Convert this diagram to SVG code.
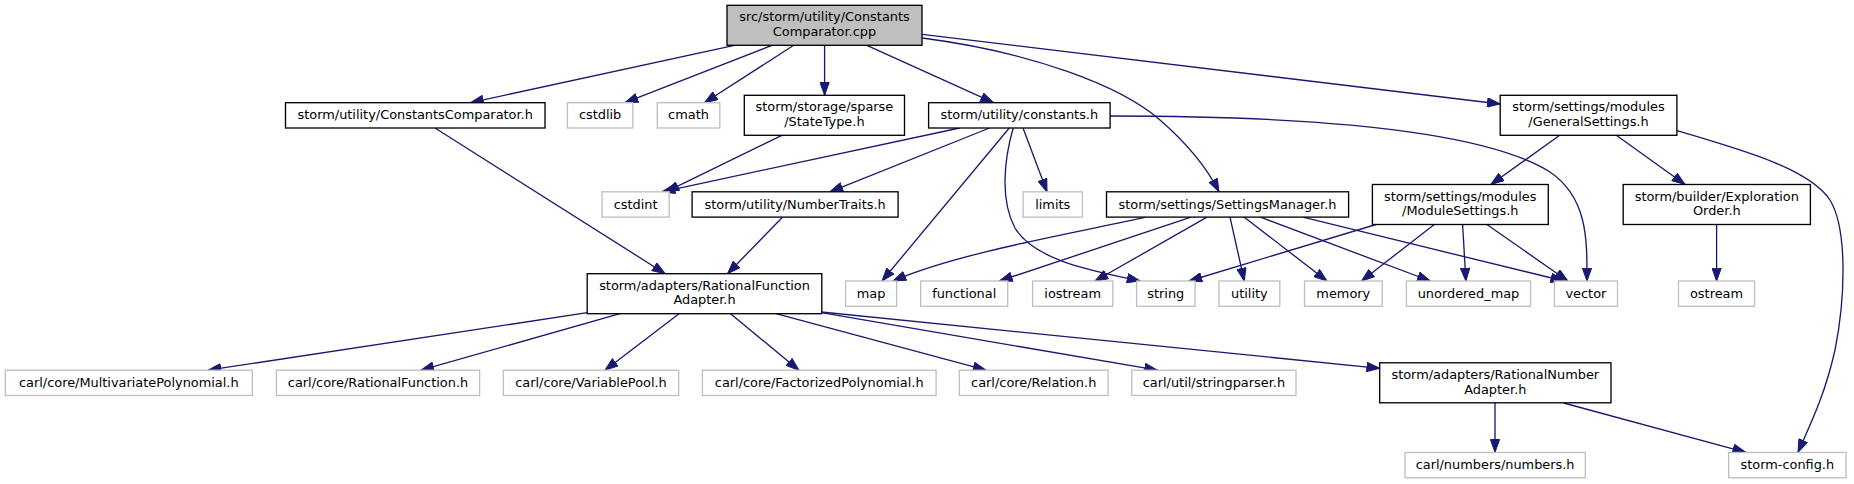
<svg xmlns="http://www.w3.org/2000/svg" width="1854" height="484" viewBox="0 0 1854 484">
<style>
.n rect{fill:#ffffff;stroke:#000000;stroke-width:1.33}
.g rect{fill:#ffffff;stroke:#bfbfbf;stroke-width:1.33}
.r rect{fill:#bfbfbf;stroke:#000000;stroke-width:1.33}
text{font-family:"DejaVu Sans","Liberation Sans",sans-serif;font-size:12.9px;fill:#000000;text-anchor:middle}
#edges path{fill:none;stroke:#191970;stroke-width:1.33;marker-end:url(#arr)}
</style>
<defs>
<marker id="arr" markerUnits="userSpaceOnUse" viewBox="0 0 14 10" refX="13.3" refY="5" markerWidth="14" markerHeight="10" orient="auto">
<path d="M0.5,0.4 L13.3,5 L0.5,9.6 z" fill="#191970" stroke="#191970" stroke-width="1"/>
</marker>
</defs>
<rect width="1854" height="484" fill="#ffffff"/>
<g id="edges">
<path d="M734.4,45.3 L470.5,102.7"/>
<path d="M772,45.3 L625,102.7"/>
<path d="M793.7,45.3 L704.5,102.7"/>
<path d="M824.6,45.3 L824.6,95.3"/>
<path d="M866.9,45.3 L993.5,102.7"/>
<path d="M922.3,38 C1030,52 1120,85 1160,120 C1190,146 1208,170 1219,191.8"/>
<path d="M922.3,34.3 L1500.2,104"/>
<path d="M959.6,128 L662,191.8"/>
<path d="M989.5,128 L830,191.8"/>
<path d="M1009.3,128 L882,281"/>
<path d="M1013.2,128 C1004,160 1000,200 1015,228 C1035,262 1100,272 1140,281"/>
<path d="M1023,128 L1047,191.8"/>
<path d="M1110,116 C1300,116 1480,128 1550,172 C1588,198 1587,240 1587,281"/>
<path d="M781.9,135.3 L666,191.8"/>
<path d="M435,128 L665.2,273.7"/>
<path d="M782.5,217.2 L727.5,273.7"/>
<path d="M1145.6,217.2 C1080,232 960,252 893,281"/>
<path d="M1191,217.2 L999.4,281"/>
<path d="M1207,217.2 L1095,281"/>
<path d="M1230,217.2 L1244.3,281"/>
<path d="M1244.3,217.2 L1327,281"/>
<path d="M1260.4,217.2 L1430.3,281"/>
<path d="M1302.9,217.2 L1563.7,281"/>
<path d="M1376,224.5 L1189,281"/>
<path d="M1434.3,224.5 L1361.5,281"/>
<path d="M1462.6,224.5 L1465.9,281"/>
<path d="M1486.9,224.5 L1567.8,281"/>
<path d="M1559.7,135.3 L1490.9,184.5"/>
<path d="M1616.3,135.3 L1685,184.5"/>
<path d="M1677,130.7 C1750,152 1810,170 1830,200 C1848,230 1845,300 1835,350 C1825,395 1810,425 1798,452.3"/>
<path d="M1716.6,224.5 L1716.6,281"/>
<path d="M587.2,312.7 L208,370.2"/>
<path d="M620,313.7 L421,370.2"/>
<path d="M679,313.7 L605,370.2"/>
<path d="M730.5,313.7 L799,370.2"/>
<path d="M776,313.7 L986,370.2"/>
<path d="M821.4,312.7 L1157.5,370.2"/>
<path d="M821.4,312 L1379.7,368.3"/>
<path d="M1495,403 L1495,452.3"/>
<path d="M1563.7,403 L1745.7,452.3"/>
</g>
<g id="node1" class="r"><rect x="727" y="5.3" width="195" height="40"/><text x="824.5" y="21.3">src/storm/utility/Constants</text><text x="824.5" y="36">Comparator.cpp</text></g>
<g id="node2" class="n"><rect x="285.5" y="102.7" width="259.5" height="25.3"/><text x="415.2" y="119.3">storm/utility/ConstantsComparator.h</text></g>
<g id="node3" class="g"><rect x="567.4" y="102.7" width="65.4" height="25.3"/><text x="600.1" y="119.3">cstdlib</text></g>
<g id="node4" class="g"><rect x="657.3" y="102.7" width="62.5" height="25.3"/><text x="688.5" y="119.3">cmath</text></g>
<g id="node5" class="n"><rect x="744.3" y="95.3" width="160.2" height="40"/><text x="824.4" y="111.3">storm/storage/sparse</text><text x="824.4" y="126">/StateType.h</text></g>
<g id="node6" class="n"><rect x="928.6" y="102.7" width="181.5" height="25.3"/><text x="1019.3" y="119.3">storm/utility/constants.h</text></g>
<g id="node7" class="n"><rect x="1500.2" y="95.3" width="176.7" height="40"/><text x="1588.5" y="111.3">storm/settings/modules</text><text x="1588.5" y="126">/GeneralSettings.h</text></g>
<g id="node8" class="g"><rect x="602" y="191.8" width="67.2" height="25.3"/><text x="635.6" y="208.5">cstdint</text></g>
<g id="node9" class="n"><rect x="692.1" y="191.8" width="206" height="25.3"/><text x="795.1" y="208.5">storm/utility/NumberTraits.h</text></g>
<g id="node10" class="g"><rect x="1023.1" y="191.8" width="59.3" height="25.3"/><text x="1052.7" y="208.5">limits</text></g>
<g id="node11" class="n"><rect x="1106.5" y="191.8" width="242.1" height="25.3"/><text x="1227.5" y="208.5">storm/settings/SettingsManager.h</text></g>
<g id="node12" class="n"><rect x="1372.4" y="184.5" width="175.9" height="40"/><text x="1460.3" y="200.5">storm/settings/modules</text><text x="1460.3" y="215.2">/ModuleSettings.h</text></g>
<g id="node13" class="n"><rect x="1623.2" y="184.5" width="187.2" height="40"/><text x="1716.8" y="200.5">storm/builder/Exploration</text><text x="1716.8" y="215.2">Order.h</text></g>
<g id="node14" class="n"><rect x="587.2" y="273.7" width="234.6" height="40"/><text x="704.5" y="289.7">storm/adapters/RationalFunction</text><text x="704.5" y="304.4">Adapter.h</text></g>
<g id="node15" class="g"><rect x="845.6" y="281" width="51" height="25.3"/><text x="871.1" y="297.7">map</text></g>
<g id="node16" class="g"><rect x="920.7" y="281" width="87" height="25.3"/><text x="964.2" y="297.7">functional</text></g>
<g id="node17" class="g"><rect x="1032.6" y="281" width="80.2" height="25.3"/><text x="1072.7" y="297.7">iostream</text></g>
<g id="node18" class="g"><rect x="1136.6" y="281" width="58.5" height="25.3"/><text x="1165.8" y="297.7">string</text></g>
<g id="node19" class="g"><rect x="1219" y="281" width="60.8" height="25.3"/><text x="1249.4" y="297.7">utility</text></g>
<g id="node20" class="g"><rect x="1304.5" y="281" width="77.7" height="25.3"/><text x="1343.3" y="297.7">memory</text></g>
<g id="node21" class="g"><rect x="1406.4" y="281" width="124.2" height="25.3"/><text x="1468.5" y="297.7">unordered_map</text></g>
<g id="node22" class="g"><rect x="1554.4" y="281" width="63.1" height="25.3"/><text x="1585.9" y="297.7">vector</text></g>
<g id="node23" class="g"><rect x="1678.5" y="281" width="76.1" height="25.3"/><text x="1716.5" y="297.7">ostream</text></g>
<g id="node24" class="g"><rect x="5.3" y="370.2" width="247" height="25.3"/><text x="128.8" y="386.8">carl/core/MultivariatePolynomial.h</text></g>
<g id="node25" class="g"><rect x="276.4" y="370.2" width="203.2" height="25.3"/><text x="378" y="386.8">carl/core/RationalFunction.h</text></g>
<g id="node26" class="g"><rect x="503.4" y="370.2" width="175.3" height="25.3"/><text x="591" y="386.8">carl/core/VariablePool.h</text></g>
<g id="node27" class="g"><rect x="702.4" y="370.2" width="233.7" height="25.3"/><text x="819.2" y="386.8">carl/core/FactorizedPolynomial.h</text></g>
<g id="node28" class="g"><rect x="959.4" y="370.2" width="148.7" height="25.3"/><text x="1033.7" y="386.8">carl/core/Relation.h</text></g>
<g id="node29" class="g"><rect x="1131.8" y="370.2" width="164.2" height="25.3"/><text x="1213.9" y="386.8">carl/util/stringparser.h</text></g>
<g id="node30" class="n"><rect x="1379.7" y="362.8" width="231.3" height="40"/><text x="1495.3" y="378.8">storm/adapters/RationalNumber</text><text x="1495.3" y="393.5">Adapter.h</text></g>
<g id="node31" class="g"><rect x="1405" y="452.5" width="180.3" height="25.3"/><text x="1495.1" y="469.1">carl/numbers/numbers.h</text></g>
<g id="node32" class="g"><rect x="1728.7" y="452.5" width="117.3" height="25.3"/><text x="1787.3" y="469.1">storm-config.h</text></g>
</svg>
